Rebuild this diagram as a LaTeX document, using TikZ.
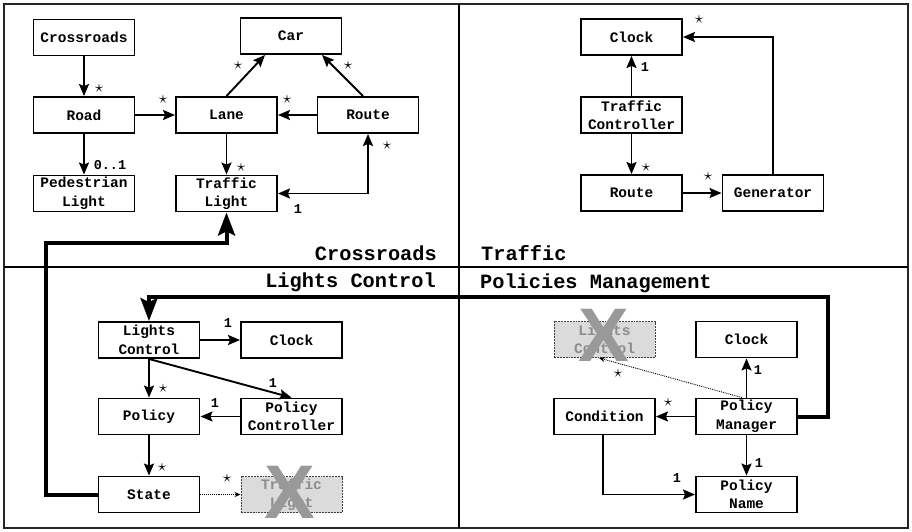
\documentclass[tikz,border=0pt]{standalone}
\usepackage{fontspec}
\setmonofont{Liberation Mono}
\newfontfamily\xfont{Liberation Sans}
\usetikzlibrary{arrows.meta}

\begin{document}
\begin{tikzpicture}[x=1pt,y=-1pt,
  cls/.style={draw, fill=white, line width=1.9pt, minimum width=101pt, minimum height=36pt,
    inner sep=0pt, align=center, font=\ttfamily\bfseries\fontsize{14.5}{18.5}\selectfont},
  ghost/.style={cls, draw=black!75, densely dotted, line width=0.9pt, fill=black!14, text=black!45},
  assoc/.style={line width=1.9pt, -{Stealth[length=12pt,width=10pt,inset=2pt]}},
  both/.style={line width=1.9pt, {Stealth[length=12pt,width=10pt,inset=2pt]}-{Stealth[length=12pt,width=10pt,inset=2pt]}},
  boldarrow/.style={line width=4pt, -{Stealth[length=23pt,width=17pt,inset=4pt]}},
  dep/.style={line width=0.9pt, densely dotted, -{Stealth[length=6pt,width=5pt]}},
  mult/.style={font=\ttfamily\bfseries\fontsize{13.5}{14}\selectfont, inner sep=0pt},
  star/.style={inner sep=0pt, font=\fontsize{19}{19}\selectfont},
  pkg/.style={font=\ttfamily\bfseries\fontsize{20.3}{22}\selectfont, inner sep=0pt},
  cross/.style={font=\xfont\bfseries\fontsize{76}{76}\selectfont, text=black!40, inner sep=0pt}]
\useasboundingbox (0,0) rectangle (912,531);

% package frame and dividers
\draw[line width=2pt, black!85] (4,4) rectangle (908,528);
\draw[line width=2.5pt] (459,4) -- (459,528);
\draw[line width=2.5pt] (4,267) -- (908,267);

% package names
\node[pkg, anchor=east] (pcross) at (437,253) {Crossroads};
\node[pkg, anchor=west] (ptraffic) at (481,253) {Traffic};
\node[pkg, anchor=east] (plights) at (436,282) {Lights Control};
\node[pkg, anchor=west] (ppol) at (480,283) {Policies Management};

% ---- Crossroads
\node[cls] (cr) at (84,37.5) {Crossroads};
\node[cls] (car) at (291,36) {Car};
\node[cls] (road) at (84,115) {Road};
\node[cls] (lane) at (226.5,115) {Lane};
\node[cls] (route) at (368,115) {Route};
\node[cls] (ped) at (84,193.5) {Pedestrian\\Light};
\node[cls] (tl) at (226.5,193.5) {Traffic\\Light};

\draw[assoc] (cr) -- (road);
\draw[assoc] (road) -- (lane);
\draw[assoc] (route) -- (lane);
\draw[assoc] (lane.north) -- ([xshift=-26pt]car.south);
\draw[assoc] ([xshift=-5pt]route.north) -- ([xshift=31pt]car.south);
\draw[assoc] (road) -- (ped);
\draw[assoc] (lane) -- (tl);
\draw[both] (tl.east) -| (route.south);

\node[star] (s1) at (99,88) {$\star$};
\node[star] (s2) at (163,99) {$\star$};
\node[star] (s3) at (287,99) {$\star$};
\node[star] (s4) at (238,65) {$\star$};
\node[star] (s5) at (348,65) {$\star$};
\node[mult] (m1) at (110,165) {0..1};
\node[star] (s6) at (241,167) {$\star$};
\node[star] (s7) at (387,145) {$\star$};
\node[mult] (m2) at (298,209) {1};

% ---- Traffic
\node[cls] (clk1) at (631.5,37) {Clock};
\node[cls] (tc) at (631.5,115) {Traffic\\Controller};
\node[cls] (route2) at (631.5,193) {Route};
\node[cls] (gen) at (773,193) {Generator};

\draw[assoc] (tc) -- (clk1);
\draw[assoc] (tc) -- (route2);
\draw[assoc] (route2) -- (gen);
\draw[assoc] (gen.north) |- (clk1.east);

\node[mult] (m3) at (645,67) {1};
\node[star] (s8) at (646,167) {$\star$};
\node[star] (s9) at (708,176) {$\star$};
\node[star] (s10) at (699,19) {$\star$};

% ---- Lights Control
\node[cls] (lc) at (149,340) {Lights\\Control};
\node[cls] (clk2) at (291.5,340) {Clock};
\node[cls] (pol) at (149,416.5) {Policy};
\node[cls] (pc) at (291.5,416.5) {Policy\\Controller};
\node[cls] (state) at (149,494.5) {State};
\node[ghost] (gtl) at (291.5,494.5) {Traffic\\Light};
\node[cross] (xa) at (290,492) {X};

\draw[assoc] (lc) -- (clk2);
\draw[assoc] (lc) -- (pol);
\draw[assoc] (lc.south) -- (pc.north);
\draw[assoc] (pc) -- (pol);
\draw[assoc] (pol) -- (state);
\draw[dep] (state) -- (gtl);

\node[mult] (m4) at (228,323) {1};
\node[star] (s11) at (163,388) {$\star$};
\node[mult] (m5) at (273,383) {1};
\node[mult] (m6) at (215,403) {1};
\node[star] (s12) at (162,467) {$\star$};
\node[star] (s13) at (227,478) {$\star$};

% ---- Policies Management
\node[ghost] (glc) at (604.5,339.5) {Lights\\Control};
\node[cross] (xb) at (604,335) {X};
\node[cls] (clk3) at (746.5,339.5) {Clock};
\node[cls] (cond) at (604.5,416.5) {Condition};
\node[cls] (pm) at (746.5,416.5) {Policy\\Manager};
\node[cls] (pn) at (746.5,494.5) {Policy\\Name};

\draw[assoc] (pm) -- (clk3);
\draw[assoc] (pm) -- (cond);
\draw[assoc] (pm) -- (pn);
\draw[assoc] ([xshift=-1.5pt]cond.south) |- (pn.west);
\draw[dep] ([xshift=-4.5pt]pm.north) -- ([xshift=-5.5pt]glc.south);

\node[mult] (m7) at (758,370) {1};
\node[star] (s14) at (668,402) {$\star$};
\node[mult] (m8) at (759,463) {1};
\node[mult] (m9) at (677,478) {1};
\node[star] (s15) at (618,373) {$\star$};

% ---- links across packages
\coordinate (ka) at (46,243);
\coordinate (kb) at (828,297);
\draw[boldarrow] (state.west) -| (ka) -| (tl.south);
\draw[boldarrow] (pm.east) -| (kb) -| (lc.north);
\end{tikzpicture}
\end{document}
